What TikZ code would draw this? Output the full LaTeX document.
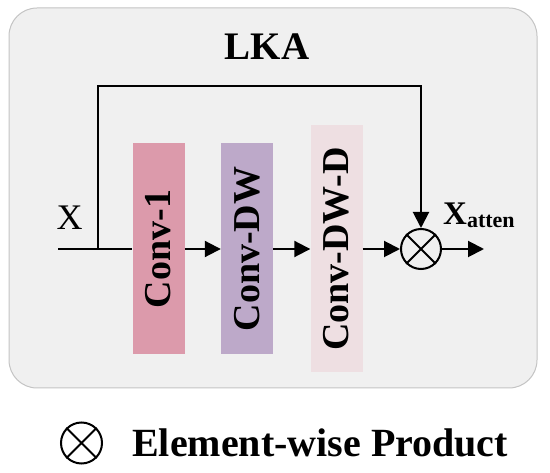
\documentclass[tikz,border=0pt]{standalone}
\usepackage{fontspec}
\setmainfont{Liberation Serif}
\usetikzlibrary{arrows.meta}
\definecolor{bggray}{HTML}{F0F0F0}
\definecolor{framegray}{HTML}{C4C4C4}
\definecolor{convone}{HTML}{DC9AAB}
\definecolor{convdw}{HTML}{BDA9C9}
\definecolor{convdwd}{HTML}{EEDFE2}
\tikzset{
  convbox/.style={draw=none, minimum width=52pt, inner sep=0pt},
  convtext/.style={rotate=90, font=\bfseries\fontsize{38}{38}\selectfont, inner sep=0pt},
  conn/.style={line width=2pt},
  arr/.style={line width=2pt, -{Triangle[length=16pt,width=16pt]}},
  prod/.style={circle, draw, line width=2pt, minimum size=40pt, inner sep=0pt},
}
\begin{document}
\begin{tikzpicture}[x=1pt,y=-1pt]
\useasboundingbox (0,0) rectangle (550,473);
\node[draw=framegray, fill=bggray, line width=1pt, rounded corners=28pt,
      minimum width=528pt, minimum height=380pt] (frame) at (273,198) {};
\node[anchor=base, font=\bfseries\fontsize{39}{39}\selectfont, inner sep=0pt] (lka) at (267,60) {LKA};
% conv boxes
\node[convbox, fill=convone, minimum height=211pt] (c1) at (158.5,249) {};
\node[convbox, fill=convdw, minimum height=211pt] (c2) at (247,249) {};
\node[convbox, fill=convdwd, minimum height=247pt] (c3) at (336.5,249) {};
\node[convtext] (t1) at (c1) {Conv-1};
\node[convtext] (t2) at (c2) {Conv-DW};
\node[convtext] (t3) at (c3) {Conv-DW-D};
% product
\node[prod] (m) at (421,249) {};
\draw[line width=2pt] (m.north west) -- (m.south east) (m.north east) -- (m.south west);
% labels
\node[font=\fontsize{36}{36}\selectfont, inner sep=0pt] (xl) at (69.5,218) {X};
\node[anchor=base west, inner sep=0pt] (xa) at (443,225)
  {\bfseries\fontsize{33}{33}\selectfont X\raisebox{-3pt}{\fontsize{22}{22}\selectfont atten}};
% coordinates
\coordinate (in) at (58,249);
\coordinate (br) at (98,249);
\coordinate (tl) at (98,86);
\coordinate (tr) at (421,86);
\coordinate (out) at (484,249);
% connectors
\draw[conn] (in) -- (c1.west);
\draw[arr] (br) -- (tl) -- (tr) -- (m.north);
\draw[arr] (c1.east) -- (c2.west);
\draw[arr] (c2.east) -- (c3.west);
\draw[arr] (c3.east) -- (m.west);
\draw[arr] (m.east) -- (out);
% legend
\node[prod, minimum size=41pt] (lm) at (81.5,443) {};
\draw[line width=2pt] (lm.north west) -- (lm.south east) (lm.north east) -- (lm.south west);
\node[anchor=base west, inner sep=0pt, font=\bfseries\fontsize{40}{40}\selectfont] (lt) at (132,457) {Element-wise Product};
\end{tikzpicture}
\end{document}
